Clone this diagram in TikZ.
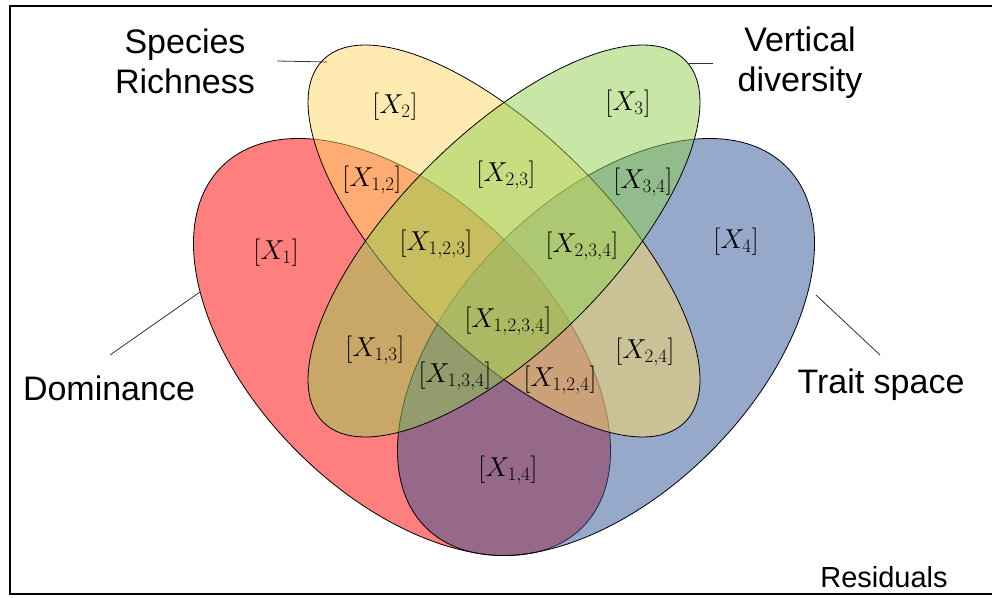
\documentclass[tikz,border=0pt]{standalone}
\usepackage{fontspec}
\newfontfamily\labelfont{Liberation Sans}
\usetikzlibrary{shapes.geometric}
\definecolor{setred}{HTML}{FF0000}
\definecolor{setblue}{HTML}{2F5597}
\definecolor{setyellow}{HTML}{FFD966}
\definecolor{setgreen}{HTML}{92D050}
\begin{document}
\begin{tikzpicture}[x=1pt,y=1pt,
  setshape/.style={ellipse, draw=black, line width=0.8pt, fill opacity=0.5,
    inner sep=0pt, outer sep=0pt},
  outerset/.style={setshape, minimum width=510pt, minimum height=296pt},
  innerset/.style={setshape, minimum width=512pt, minimum height=212pt},
  region/.style={font=\fontsize{24}{28}\selectfont, inner sep=0pt, scale=1.1, transform shape},
  setlabel/.style={font=\labelfont\fontsize{34}{40}\selectfont, align=center, inner sep=0pt},
  leader/.style={draw=black!80, line width=0.8pt}]
\useasboundingbox (0,0) rectangle (992,597);
\fill[white] (0,0) rectangle (992,597);
% frame (open on the right)
\draw[line width=2.5pt] (996,591) -- (10,591) -- (10,3) -- (996,3);

% the four sets, drawn bottom to top
\node[outerset, fill=setred, rotate=-45] (sdom) at (402,250) {};
\node[outerset, fill=setblue, rotate=45] (strait) at (606,250) {};
\node[innerset, fill=setyellow, rotate=-45] (srich) at (504,356) {};
\node[innerset, fill=setgreen, rotate=45] (svert) at (504,356) {};

% region labels
\node[region] (x2) at (395,490) {$[X_2]$};
\node[region] (x3) at (628,493) {$[X_3]$};
\node[region] (x12) at (372,417) {$[X_{1,2}]$};
\node[region] (x23) at (506,422) {$[X_{2,3}]$};
\node[region] (x34) at (643,415) {$[X_{3,4}]$};
\node[region] (x1) at (276,344) {$[X_1]$};
\node[region] (x123) at (436,353) {$[X_{1,2,3}]$};
\node[region] (x234) at (582,351) {$[X_{2,3,4}]$};
\node[region] (x4) at (736,355) {$[X_4]$};
\node[region] (x1234) at (508,276) {$[X_{1,2,3,4}]$};
\node[region] (x13) at (375,247) {$[X_{1,3}]$};
\node[region] (x24) at (645,245) {$[X_{2,4}]$};
\node[region] (x134) at (455,221) {$[X_{1,3,4}]$};
\node[region] (x124) at (560,217) {$[X_{1,2,4}]$};
\node[region] (x14) at (508,127) {$[X_{1,4}]$};

% set names
\node[setlabel] (lrich) at (185,536) {Species\\Richness};
\node[setlabel] (lvert) at (800,534) {Vertical\\diversity};
\node[setlabel] (ldom) at (109,209) {Dominance};
\node[setlabel] (ltrait) at (881,212) {Trait space};
\node[font=\labelfont\fontsize{29}{34}\selectfont, inner sep=0pt] (lres) at (884,20) {Residuals};

% leader lines
\coordinate (richA) at (277,536);
\coordinate (richB) at (327,535);
\coordinate (vertA) at (688,534);
\coordinate (vertB) at (713,534);
\coordinate (domA) at (110,242);
\coordinate (domB) at (200,305);
\coordinate (traitA) at (816,302);
\coordinate (traitB) at (880,242);
\draw[leader] (richA) -- (richB);
\draw[leader] (vertA) -- (vertB);
\draw[leader] (domA) -- (domB);
\draw[leader] (traitA) -- (traitB);
\end{tikzpicture}
\end{document}
